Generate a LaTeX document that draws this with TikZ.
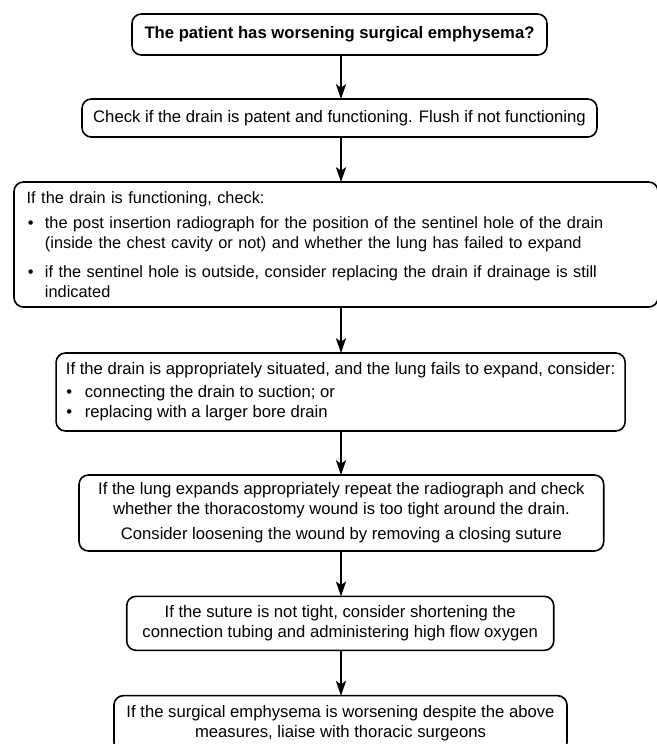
\documentclass[tikz,border=0pt]{standalone}
\usepackage{fontspec}
\setmainfont{Liberation Sans}
\usetikzlibrary{shapes,arrows,arrows.meta,positioning}
\tikzstyle{box} = [draw, line width=1.2pt, rounded corners=7pt, inner ysep=0pt, outer sep=0pt, font=\fontsize{12.5}{15}\selectfont]
\tikzstyle{wide} = [box, align=left]
\tikzstyle{narrow} = [box, align=center]
\newcommand{\bul}[2]{\makebox[#1][l]{\hspace{#2}\textbullet}}

\begin{document}
\begin{tikzpicture}[x=0.75pt, y=-0.75pt, ->, >={Stealth[length=11pt,width=7.5pt,inset=2.5pt]}, line width=1.6pt, node distance=33.5pt]

\useasboundingbox (0,0) rectangle (657,744);
\coordinate (axis) at (341,0);

\node[narrow, font=\fontsize{12.5}{15}\selectfont\bfseries, minimum width=311.25pt, minimum height=30.75pt] (1) at (339.5,34.5) [] {The patient has worsening surgical emphysema?};
\node[narrow, below = 33pt of 1, minimum width=386.25pt, minimum height=28.5pt] (2) [] {Check if the drain is patent and functioning. Flush if not functioning};

\node[wide, below = 33.75pt of 2, xshift=-2.6pt, inner xsep=9.5pt, text width=464pt, minimum height=93.75pt, font=\fontsize{12.25}{15}\selectfont] (3) [] {If the drain is functioning, check:\\[3.5pt]
\bul{13.7pt}{0.8pt}the post insertion radiograph for the position of the sentinel hole of the drain\\
\hspace*{13.7pt}(inside the chest cavity or not) and whether the lung has failed to expand\\[7pt]
\bul{13.7pt}{0.8pt}if the sentinel hole is outside, consider replacing the drain if drainage is still\\
\hspace*{13.7pt}indicated};

\node[wide, below = 34.5pt of 3, xshift=3.45pt, minimum width=426.75pt, minimum height=58.5pt] (4) [] {If the drain is appropriately situated, and the lung fails to expand, consider:\\[2.5pt]
\bul{14.25pt}{0.3pt}connecting the drain to suction; or\\
\bul{14.25pt}{0.3pt}replacing with a larger bore drain};

\node[narrow, below = 33pt of 4, xshift=0.56pt, minimum width=393.5pt, minimum height=57pt] (5) [] {If the lung expands appropriately repeat the radiograph and check\\
whether the thoracostomy wound is too tight around the drain.\\[3.75pt]
Consider loosening the wound by removing a closing suture};
\node[narrow, below = 34pt of 5, xshift=-0.86pt, minimum width=320.25pt, minimum height=40.5pt] (6) [] {If the suture is not tight, consider shortening the\\
connection tubing and administering high flow oxygen};
\node[narrow, below = 34pt of 6, xshift=0.2pt, minimum width=339.75pt, minimum height=42pt] (7) [] {If the surgical emphysema is worsening despite the above\\
measures, liaise with thoracic surgeons};

\path
(1.south -| axis) edge [] (axis |- 2.north)
(2.south -| axis) edge [] (axis |- 3.north)
(3.south -| axis) edge [] (axis |- 4.north)
(4.south -| axis) edge [] (axis |- 5.north)
(5.south -| axis) edge [] (axis |- 6.north)
(6.south -| axis) edge [] (axis |- 7.north);

\end{tikzpicture}
\end{document}
